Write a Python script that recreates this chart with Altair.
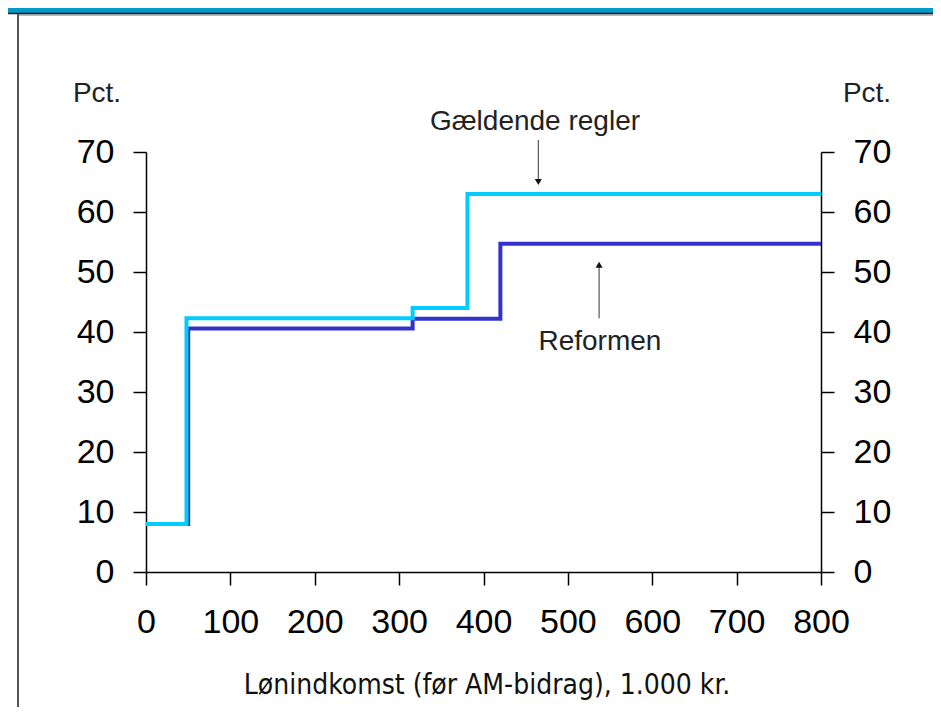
import altair as alt
import pandas as pd

# ---- data ----
income_gaeld = [0, 48, 316, 381, 800]
rate_gaeld = [8.0, 42.3, 44.0, 63.0, 63.0]
income_reform = [0, 50, 316, 420, 800]
rate_reform = [8.0, 40.6, 42.2, 54.7, 54.7]
x_ticks = [0, 100, 200, 300, 400, 500, 600, 700, 800]
y_ticks = [0, 10, 20, 30, 40, 50, 60, 70]

label_gaeld = "Gældende regler"
label_reform = "Reformen"
x_title = "Lønindkomst (før AM-bidrag), 1.000 kr."
y_unit = "Pct."

# annotation anchors (data units)
ann_text_x = [461, 538]
ann_text_y = [73.7, 37.0]
arrow_x = [465, 537]
arrow_from = [72.0, 42.3]
arrow_to = [65.0, 51.2]

W, H = 675, 420
FONT = "Liberation Sans"

df_g = pd.DataFrame({"income": income_gaeld, "rate": rate_gaeld})
df_r = pd.DataFrame({"income": income_reform, "rate": rate_reform})

xscale = alt.Scale(domain=[0, 800], nice=False, zero=False)
yscale = alt.Scale(domain=[0, 70], nice=False)

axis_common = dict(
    labelFont=FONT, labelFontSize=34, labelColor="black",
    domainColor="black", tickColor="black", domainWidth=1.5, tickWidth=1.5,
    tickSize=13, grid=False, title=None, labelOverlap=False, labelFlush=False,
)
x_axis = alt.Axis(values=x_ticks, orient="bottom", labelPadding=20, **axis_common)
x_enc = alt.X("income:Q", scale=xscale, axis=x_axis)

reform = alt.Chart(df_r).mark_line(
    interpolate="step-after", strokeWidth=4, color="#3333CC", strokeJoin="miter"
).encode(
    x=x_enc,
    y=alt.Y("rate:Q", scale=yscale,
            axis=alt.Axis(values=y_ticks, orient="left", labelPadding=19, **axis_common)),
)

gaeld = alt.Chart(df_g).mark_line(
    interpolate="step-after", strokeWidth=4, color="#00CCFF", strokeJoin="miter"
).encode(
    x=x_enc,
    y=alt.Y("rate:Q", scale=yscale, axis=None),
)

right_axis = alt.Chart(df_g).mark_line(opacity=0).encode(
    x=x_enc,
    y=alt.Y("rate:Q", scale=yscale,
            axis=alt.Axis(values=y_ticks, orient="right", labelPadding=19, **axis_common)),
)

df_ann = pd.DataFrame({
    "label": [label_gaeld, label_reform],
    "tx": ann_text_x, "ty": ann_text_y,
    "ax": arrow_x, "a0": arrow_from, "a1": arrow_to,
    "shape": ["triangle-down", "triangle-up"],
})

ann_text = alt.Chart(df_ann).mark_text(
    font=FONT, fontSize=28, color="#222222", baseline="alphabetic", align="center"
).encode(
    x=alt.X("tx:Q", scale=xscale, axis=x_axis),
    y=alt.Y("ty:Q", scale=yscale, axis=None),
    text="label:N",
)

shafts = alt.Chart(df_ann).mark_rule(strokeWidth=1.2, color="#555555").encode(
    x=alt.X("ax:Q", scale=xscale, axis=x_axis),
    y=alt.Y("a0:Q", scale=yscale, axis=None),
    y2="a1:Q",
)

heads = alt.Chart(df_ann).mark_point(filled=True, size=50, color="#111111", opacity=1).encode(
    x=alt.X("ax:Q", scale=xscale, axis=x_axis),
    y=alt.Y("a1:Q", scale=yscale, axis=None),
    shape=alt.Shape("shape:N", scale=None),
)

one = pd.DataFrame({"t": [y_unit]})
pct_left = alt.Chart(one).mark_text(
    font=FONT, fontSize=28, color="#222222", baseline="alphabetic", align="center"
).encode(x=alt.value(-49), y=alt.value(-50), text="t:N")
pct_right = alt.Chart(one).mark_text(
    font=FONT, fontSize=28, color="#222222", baseline="alphabetic", align="center"
).encode(x=alt.value(721), y=alt.value(-50), text="t:N")

xt = pd.DataFrame({"t": [x_title]})
x_title_mark = alt.Chart(xt).mark_text(
    font="Liberation Sans Narrow, DejaVu Sans Condensed, sans-serif",
    fontSize=28, color="#111111", baseline="alphabetic", align="center"
).encode(x=alt.value(341), y=alt.value(542), text="t:N")

# page frame
strip = alt.Chart(one).mark_rect(color="#0099CC").encode(
    x=alt.value(-140), x2=alt.value(W + 120), y=alt.value(-144), y2=alt.value(-139)
)
strip_line = alt.Chart(one).mark_rule(color="#1a1a1a", strokeWidth=1.5).encode(
    x=alt.value(-140), x2=alt.value(W + 120), y=alt.value(-138.5)
)
strip_line2 = alt.Chart(one).mark_rule(color="#777777", strokeWidth=1).encode(
    x=alt.value(-128), x2=alt.value(W + 120), y=alt.value(-137)
)
left_border = alt.Chart(one).mark_rule(color="#555555", strokeWidth=2).encode(
    x=alt.value(-128), y=alt.value(-138), y2=alt.value(H + 135)
)

chart = alt.layer(
    strip, strip_line, strip_line2, left_border,
    reform, gaeld, right_axis, shafts, heads, ann_text,
    pct_left, pct_right, x_title_mark,
).resolve_scale(y="independent").properties(
    width=W, height=H,
    background="white",
    autosize=alt.AutoSizeParams(type="none"),
    padding={"left": 138, "top": 144, "right": 112, "bottom": 135},
).configure_view(strokeOpacity=0, strokeWidth=0)

chart.save("out.html", embed_options={"renderer": "svg", "actions": False})
